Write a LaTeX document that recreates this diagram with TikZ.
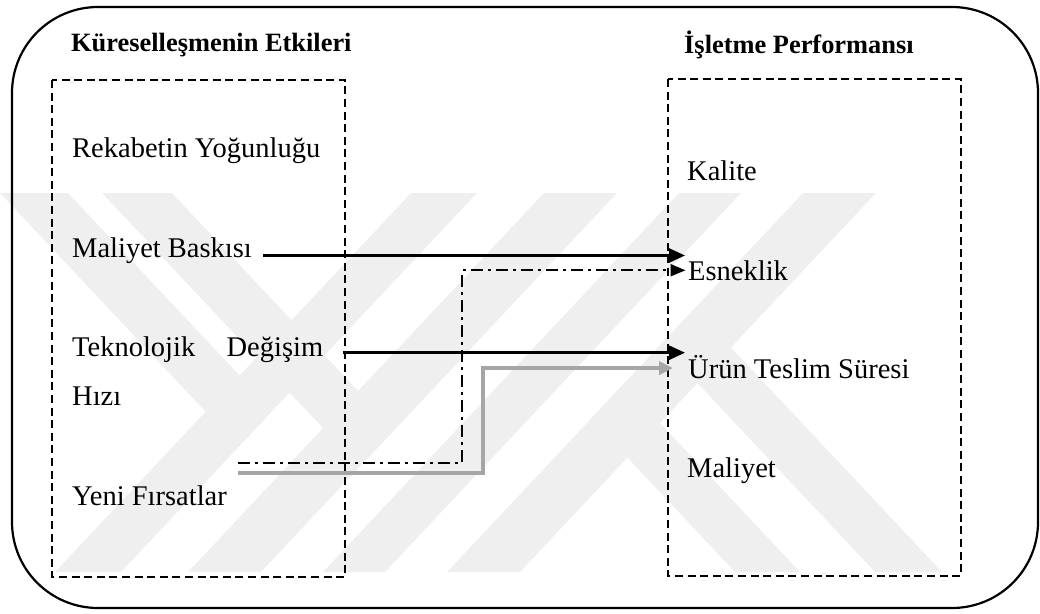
\documentclass[tikz,border=0pt]{standalone}
\usepackage{fontspec}
\setmainfont{Liberation Serif}
\usetikzlibrary{arrows.meta}
\definecolor{wm}{RGB}{239,239,239}
\definecolor{lgray}{RGB}{166,166,166}
\begin{document}
\begin{tikzpicture}[x=1pt,y=-1pt,
  txt/.style={anchor=base west, inner sep=0pt, font=\fontsize{28.5}{34}\selectfont},
  hdr/.style={anchor=base west, inner sep=0pt, font=\fontsize{26.4}{32}\selectfont\bfseries},
  dbox/.style={draw, line width=2pt, dash pattern=on 8pt off 4.6pt},
  outerframe/.style={draw, line width=2.2pt, rounded corners=86pt},
  arr/.style={line width=2.7pt, -{Triangle[length=16pt,width=14pt]}},
  darr/.style={line width=2pt, dash pattern=on 12pt off 5pt on 3pt off 5pt, -{Triangle[length=15pt,width=12pt]}},
  garr/.style={line width=4pt, draw=lgray, -{Triangle[length=14pt,width=13pt]}},
  wmark/.style={fill=wm, draw=none}]
\useasboundingbox (0,0) rectangle (1040,613);
% watermark
\fill[wmark] (411,193) -- (477,193) -- (121,572) -- (55,572) -- cycle;
\fill[wmark] (544,193) -- (617,193) -- (261,572) -- (188,572) -- cycle;
\fill[wmark] (679,193) -- (741,193) -- (385,572) -- (323,572) -- cycle;
\fill[wmark] (803,193) -- (876,193) -- (520,572) -- (447,572) -- cycle;
\fill[wmark] (0,193) -- (68,193) -- (272.5,410.5) -- (238.5,446.7) -- cycle;
\fill[wmark] (102,193) -- (172,193) -- (394.5,429.7) -- (359.5,466.9) -- cycle;
\fill[wmark] (590.9,418.7) -- (623.4,384.1) -- (800,572) -- (735,572) -- cycle;
\fill[wmark] (661,344.3) -- (694.5,308.7) -- (942,572) -- (875,572) -- cycle;
% frames
\draw[outerframe] (12,7) rectangle (1038,608);
\draw[dbox] (52,80) rectangle (345,577);
\draw[dbox] (668,79) rectangle (961,576);
% headers
\node[hdr] (h1) at (71,51) {Küreselleşmenin Etkileri};
\node[hdr] (h2) at (684,53) {İşletme Performansı};
% left texts
\node[txt] (kr) at (72,157) {Rekabetin Yoğunluğu};
\node[txt] (km) at (72,257) {Maliyet Baskısı};
\node[txt] (kt) at (72,356) {\makebox[251pt][s]{Teknolojik Değişim}};
\node[txt] (kh) at (72,405) {Hızı};
\node[txt] (ky) at (72,505) {Yeni Fırsatlar};
% right texts
\node[txt] (p1) at (687,180) {Kalite};
\node[txt] (p2) at (688,280) {Esneklik};
\node[txt] (p3) at (688,378) {Ürün Teslim Süresi};
\node[txt] (p4) at (687,477) {Maliyet};
% connectors
\coordinate (s1) at (263,255.5);
\coordinate (s2) at (343,352.7);
\coordinate (s3) at (238,462.5);
\coordinate (c3) at (462,462.5);
\coordinate (s4) at (238,472.5);
\coordinate (c4) at (483,472.5);
\draw[arr, shorten >=3pt] (s1) -- (s1 -| p2.west);
\draw[arr, shorten >=3pt] (s2) -- (s2 -| p3.west);
\draw[darr, shorten >=2.5pt] (s3) -- (c3) |- (p2.west);
\draw[garr, shorten >=15pt] (s4) -- (c4) |- ([yshift=-1.5pt]p3.west);
\end{tikzpicture}
\end{document}
